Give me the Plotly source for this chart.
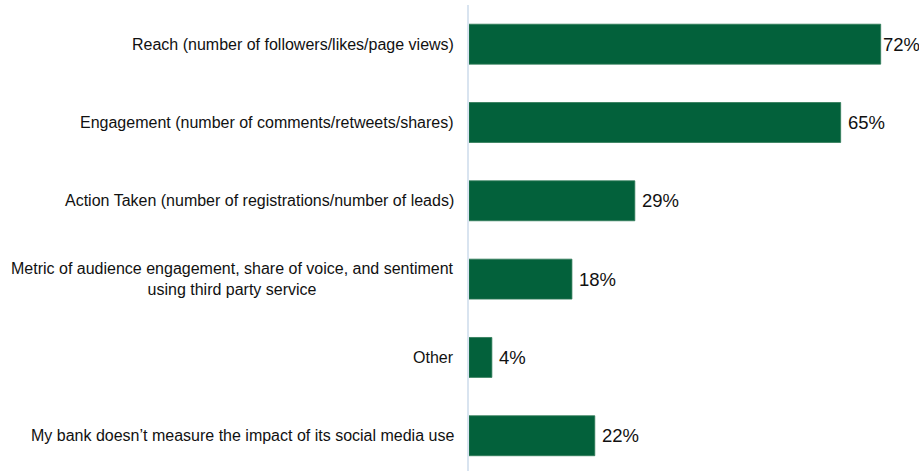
import plotly.graph_objects as go

categories = [
    "Reach (number of followers/likes/page views)",
    "Engagement (number of comments/retweets/shares)",
    "Action Taken (number of registrations/number of leads)",
    "Metric of audience engagement, share of voice, and sentiment<br>using third party service",
    "Other",
    "My bank doesn\u2019t measure the impact of its social media use",
]
values = [72, 65, 29, 18, 4, 22]
value_labels = ["72%", "65%", "29%", "18%", "4%", "22%"]

FONT = "Liberation Sans, Arial, sans-serif"

fig = go.Figure()
fig.add_trace(go.Bar(
    x=values,
    y=categories,
    orientation="h",
    marker=dict(color="#03613B", line=dict(color="#2E7A57", width=0.8)),
    width=0.51,
    hoverinfo="skip",
))

for c in categories:
    fig.add_annotation(
        x=0, xref="paper", y=c, yref="y",
        text=c, showarrow=False, xanchor="right", yanchor="middle",
        align="center", xshift=-13,
        font=dict(family=FONT, size=16, color="#111111"),
    )

vmax = max(values)
for c, v, t in zip(categories, values, value_labels):
    fig.add_annotation(
        x=v, xref="x", y=c, yref="y",
        text=t, showarrow=False, xanchor="left", yanchor="middle",
        xshift=0 if v == vmax else 5,
        font=dict(family=FONT, size=18.5, color="#111111"),
    )

fig.update_layout(
    width=919, height=471,
    margin=dict(l=469, r=0, t=5, b=0),
    paper_bgcolor="white", plot_bgcolor="white",
    showlegend=False,
    xaxis=dict(range=[0, 78.7], visible=False, showgrid=False, zeroline=False),
    yaxis=dict(
        type="category",
        categoryorder="array", categoryarray=categories,
        range=[5.45, -0.5],
        showticklabels=False, showgrid=False, zeroline=False,
        showline=True, linecolor="#D9E4F0", linewidth=1.5,
        ticks="",
    ),
)

fig.write_html("out.html")
